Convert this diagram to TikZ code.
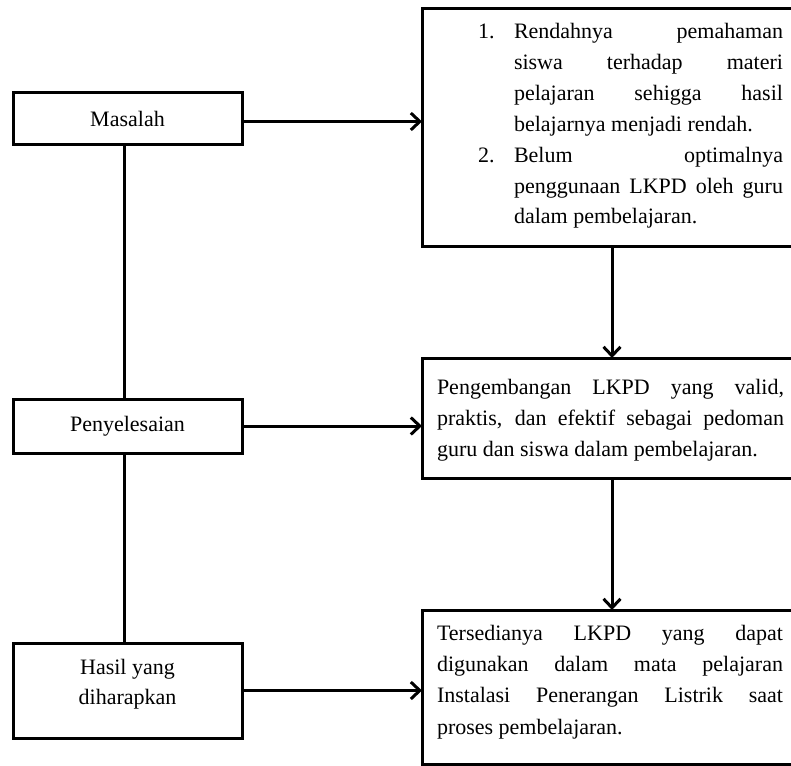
\documentclass[tikz,border=0pt]{standalone}
\usepackage{fontspec}
\setmainfont{Liberation Serif}
\usetikzlibrary{arrows.meta}
\tikzset{
  box/.style={draw=black, line width=3pt, inner sep=0pt, outer sep=0pt, font=\fontsize{22}{31}\selectfont},
  conn/.style={draw=black, line width=3pt},
  arr/.style={conn, -{Straight Barb[length=9pt,width=17pt]}},
  ln/.style={font=\fontsize{22}{31}\selectfont, inner sep=0pt, outer sep=0pt, anchor=base west},
  lc/.style={font=\fontsize{22}{31}\selectfont, inner sep=0pt, outer sep=0pt, anchor=base},
}
\newcommand\jline[2]{\makebox[#1][s]{#2}}
\begin{document}
\begin{tikzpicture}[x=1pt,y=-1pt]
\useasboundingbox (0,0) rectangle (791,765);
\fill[white] (0,0) rectangle (791,765);
\begin{scope}
\clip (0,0) rectangle (791,765);
% left boxes
\node[box, minimum width=229pt, minimum height=51pt] (mas) at (127.5,118.5) {Masalah};
\node[box, minimum width=229pt, minimum height=54pt] (pen) at (127.5,426) {Penyelesaian};
\node[box, minimum width=229pt, minimum height=95pt] (has) at (127.5,690.5) {};
\node[lc] (h1) at (127.5,674) {Hasil yang};
\node[lc] (h2) at (127.5,704) {diharapkan};
% right boxes
\node[box, minimum width=380pt, minimum height=237pt] (topb) at (612,127.5) {};
\node[box, minimum width=380pt, minimum height=120pt] (midb) at (612,418) {};
\node[box, minimum width=380pt, minimum height=154pt] (botb) at (612,687) {};
% connectors
\coordinate (a1) at ([yshift=-3pt]mas.east);
\draw[arr] (a1) -- (a1 -| topb.west);
\coordinate (v1) at ([xshift=-3.5pt]mas.south);
\draw[conn] (v1) -- (v1 |- pen.north);
\coordinate (v2) at ([xshift=-3.5pt]pen.south);
\draw[conn] (v2) -- (v2 |- has.north);
\draw[arr] (pen.east) -- (pen.east -| midb.west);
\draw[arr] (has.east) -- (has.east -| botb.west);
\draw[arr] (topb.south) -- (midb.north);
\draw[arr] (midb.south) -- (botb.north);
% top box text
\node[ln] (n1) at (478,39) {1.};
\node[ln] (t1) at (514,39) {\jline{269pt}{Rendahnya pemahaman}};
\node[ln] (t2) at (514,70) {\jline{269pt}{siswa terhadap materi}};
\node[ln] (t3) at (514,101) {\jline{269pt}{pelajaran sehigga hasil}};
\node[ln] (t4) at (514,131) {belajarnya menjadi rendah.};
\node[ln] (n2) at (478,162) {2.};
\node[ln] (t5) at (514,162) {\jline{269pt}{Belum optimalnya}};
\node[ln] (t6) at (514,193) {\jline{269pt}{penggunaan LKPD oleh guru}};
\node[ln] (t7) at (514,223) {dalam pembelajaran.};
% middle box text
\node[ln] (m1) at (437,394) {\jline{347pt}{Pengembangan LKPD yang valid,}};
\node[ln] (m2) at (437,425) {\jline{347pt}{praktis, dan efektif sebagai pedoman}};
\node[ln] (m3) at (437,456) {guru dan siswa dalam pembelajaran.};
% bottom box text
\node[ln] (b1) at (437,640) {\jline{346pt}{Tersedianya LKPD yang dapat}};
\node[ln] (b2) at (437,671) {\jline{346pt}{digunakan dalam mata pelajaran}};
\node[ln] (b3) at (437,702) {\jline{346pt}{Instalasi Penerangan Listrik saat}};
\node[ln] (b4) at (437,734) {proses pembelajaran.};
\end{scope}
\end{tikzpicture}
\end{document}
